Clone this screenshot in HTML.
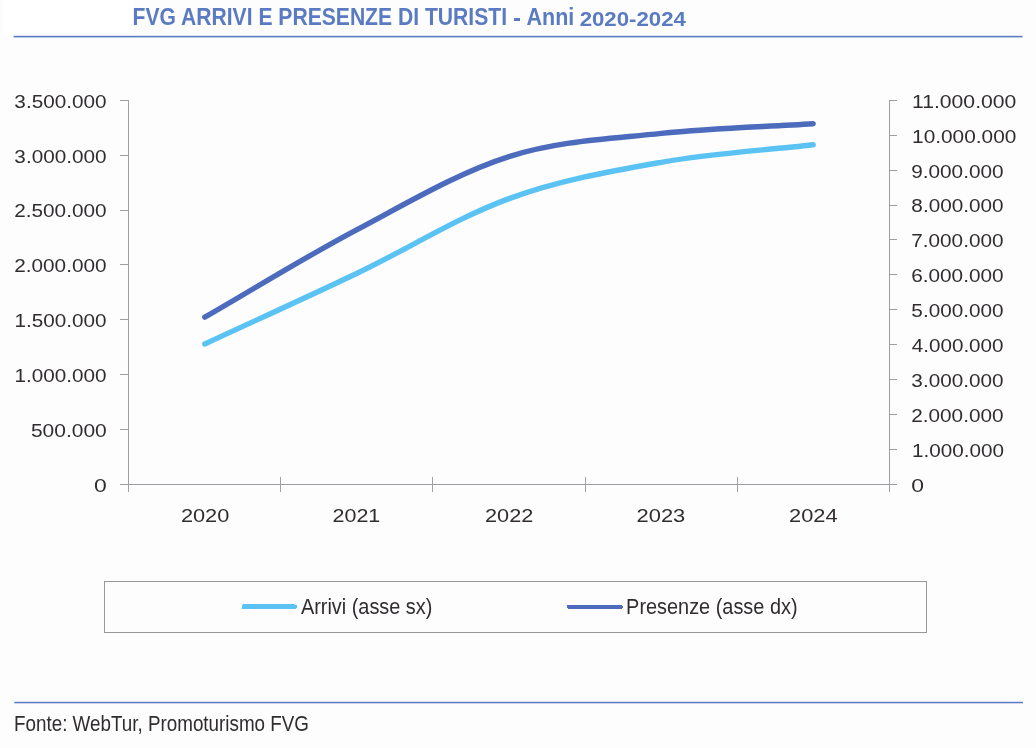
<!DOCTYPE html>
<html><head><meta charset="utf-8">
<style>
html,body{margin:0;padding:0;background:#fdfdfd;}
body{width:1036px;height:748px;overflow:hidden;position:relative;}
svg{position:absolute;left:0;top:0;will-change:transform;}
line,rect{shape-rendering:crispEdges;}
text{font-family:"Liberation Sans",sans-serif;}
.ax,.lg,.ft{fill:#302c30;}
.ti{font-weight:bold;fill:#5a7bc2;}
</style></head>
<body>
<svg width="1036" height="748" viewBox="0 0 1036 748">
<rect x="3" y="0" width="131" height="33.5" fill="#ffffff"/>
<line x1="128.5" y1="100.0" x2="128.5" y2="492" stroke="#a09da4" stroke-width="1"/>
<line x1="889.5" y1="100.0" x2="889.5" y2="492" stroke="#a09da4" stroke-width="1"/>
<line x1="120" y1="484.5" x2="897" y2="484.5" stroke="#a09da4" stroke-width="1"/>
<line x1="120" y1="484.5" x2="128.5" y2="484.5" stroke="#a09da4" stroke-width="1"/>
<line x1="120" y1="429.5" x2="128.5" y2="429.5" stroke="#a09da4" stroke-width="1"/>
<line x1="120" y1="374.5" x2="128.5" y2="374.5" stroke="#a09da4" stroke-width="1"/>
<line x1="120" y1="319.5" x2="128.5" y2="319.5" stroke="#a09da4" stroke-width="1"/>
<line x1="120" y1="264.5" x2="128.5" y2="264.5" stroke="#a09da4" stroke-width="1"/>
<line x1="120" y1="210.5" x2="128.5" y2="210.5" stroke="#a09da4" stroke-width="1"/>
<line x1="120" y1="155.5" x2="128.5" y2="155.5" stroke="#a09da4" stroke-width="1"/>
<line x1="120" y1="100.5" x2="128.5" y2="100.5" stroke="#a09da4" stroke-width="1"/>
<line x1="889.5" y1="484.5" x2="897" y2="484.5" stroke="#a09da4" stroke-width="1"/>
<line x1="889.5" y1="449.5" x2="897" y2="449.5" stroke="#a09da4" stroke-width="1"/>
<line x1="889.5" y1="414.5" x2="897" y2="414.5" stroke="#a09da4" stroke-width="1"/>
<line x1="889.5" y1="379.5" x2="897" y2="379.5" stroke="#a09da4" stroke-width="1"/>
<line x1="889.5" y1="344.5" x2="897" y2="344.5" stroke="#a09da4" stroke-width="1"/>
<line x1="889.5" y1="309.5" x2="897" y2="309.5" stroke="#a09da4" stroke-width="1"/>
<line x1="889.5" y1="274.5" x2="897" y2="274.5" stroke="#a09da4" stroke-width="1"/>
<line x1="889.5" y1="239.5" x2="897" y2="239.5" stroke="#a09da4" stroke-width="1"/>
<line x1="889.5" y1="205.5" x2="897" y2="205.5" stroke="#a09da4" stroke-width="1"/>
<line x1="889.5" y1="170.5" x2="897" y2="170.5" stroke="#a09da4" stroke-width="1"/>
<line x1="889.5" y1="135.5" x2="897" y2="135.5" stroke="#a09da4" stroke-width="1"/>
<line x1="889.5" y1="100.5" x2="897" y2="100.5" stroke="#a09da4" stroke-width="1"/>
<line x1="280.5" y1="477" x2="280.5" y2="492" stroke="#a09da4" stroke-width="1"/>
<line x1="432.5" y1="477" x2="432.5" y2="492" stroke="#a09da4" stroke-width="1"/>
<line x1="585.5" y1="477" x2="585.5" y2="492" stroke="#a09da4" stroke-width="1"/>
<line x1="737.5" y1="477" x2="737.5" y2="492" stroke="#a09da4" stroke-width="1"/>
<path d="M204.80,344.00 C255.40,320.50 305.90,297.73 356.60,273.50 C407.30,249.27 458.23,217.13 509.00,198.60 C559.77,180.07 610.50,171.27 661.20,162.30 C711.90,153.33 762.53,150.63 813.20,144.80" fill="none" stroke="#5bc3f4" stroke-width="5.4" stroke-linecap="round"/>
<path d="M204.80,317.20 C255.40,288.07 305.90,256.57 356.60,229.80 C407.30,203.03 458.23,172.67 509.00,156.60 C559.77,140.53 610.50,138.88 661.20,133.40 C711.90,127.92 762.53,126.93 813.20,123.70" fill="none" stroke="#4c6bbd" stroke-width="5.4" stroke-linecap="round"/>
<text transform="translate(93.88,491.51) scale(1.2326,1)" font-size="18.59" class="ax">0</text>
<text transform="translate(30.96,436.70) scale(1.1276,1)" font-size="18.59" class="ax">500.000</text>
<text transform="translate(14.54,381.89) scale(1.1130,1)" font-size="18.59" class="ax">1.000.000</text>
<text transform="translate(14.54,327.07) scale(1.1130,1)" font-size="18.59" class="ax">1.500.000</text>
<text transform="translate(14.16,272.26) scale(1.1177,1)" font-size="18.59" class="ax">2.000.000</text>
<text transform="translate(14.16,217.44) scale(1.1177,1)" font-size="18.59" class="ax">2.500.000</text>
<text transform="translate(14.37,162.63) scale(1.1151,1)" font-size="18.59" class="ax">3.000.000</text>
<text transform="translate(14.37,107.81) scale(1.1151,1)" font-size="18.59" class="ax">3.500.000</text>
<text transform="translate(911.28,491.51) scale(1.2326,1)" font-size="18.59" class="ax">0</text>
<text transform="translate(912.04,456.63) scale(1.1130,1)" font-size="18.59" class="ax">1.000.000</text>
<text transform="translate(911.16,421.75) scale(1.1177,1)" font-size="18.59" class="ax">2.000.000</text>
<text transform="translate(911.37,386.87) scale(1.1151,1)" font-size="18.59" class="ax">3.000.000</text>
<text transform="translate(911.79,351.99) scale(1.1101,1)" font-size="18.59" class="ax">4.000.000</text>
<text transform="translate(911.37,317.10) scale(1.1151,1)" font-size="18.59" class="ax">5.000.000</text>
<text transform="translate(911.16,282.22) scale(1.1177,1)" font-size="18.59" class="ax">6.000.000</text>
<text transform="translate(911.16,247.34) scale(1.1177,1)" font-size="18.59" class="ax">7.000.000</text>
<text transform="translate(911.37,212.46) scale(1.1151,1)" font-size="18.59" class="ax">8.000.000</text>
<text transform="translate(911.16,177.58) scale(1.1177,1)" font-size="18.59" class="ax">9.000.000</text>
<text transform="translate(912.03,142.70) scale(1.1221,1)" font-size="18.59" class="ax">10.000.000</text>
<text transform="translate(912.01,107.81) scale(1.1384,1)" font-size="18.59" class="ax">11.000.000</text>
<text transform="translate(180.91,522.02) scale(1.1897,1)" font-size="18.31" class="ax">2020</text>
<text transform="translate(332.53,522.02) scale(1.1722,1)" font-size="18.31" class="ax">2021</text>
<text transform="translate(485.02,522.02) scale(1.1851,1)" font-size="18.31" class="ax">2022</text>
<text transform="translate(636.61,522.02) scale(1.1949,1)" font-size="18.31" class="ax">2023</text>
<text transform="translate(789.01,522.02) scale(1.1918,1)" font-size="18.31" class="ax">2024</text>
<rect x="104.5" y="581.5" width="822" height="51" fill="none" stroke="#99979b" stroke-width="1"/>
<line x1="243.8" y1="606.7" x2="294.9" y2="606.7" stroke="#5bc3f4" stroke-width="4.6" stroke-linecap="round"/>
<text transform="translate(300.90,613.60) scale(0.8799,1)" font-size="22.61" class="lg">Arrivi (asse sx)</text>
<line x1="569.3" y1="606.8" x2="620.5" y2="606.8" stroke="#4c6bbd" stroke-width="4.6" stroke-linecap="round"/>
<text transform="translate(626.11,613.60) scale(0.8804,1)" font-size="22.61" class="lg">Presenze (asse dx)</text>
<text transform="translate(132.52,25.06) scale(0.8930,1)" font-size="23.66" class="ti">FVG ARRIVI E PRESENZE DI TURISTI</text>
<text transform="translate(526.55,25.06) scale(0.9090,1)" font-size="23.66" class="ti">Anni</text>
<text transform="translate(579.63,25.50) scale(1.1356,1)" font-size="19.58" class="ti">2020-2024</text>
<rect x="513.9" y="18.3" width="6.4" height="2.6" fill="#5a7bc2"/>
<rect x="13.6" y="35.8" width="1008.9" height="1.6" fill="#5a7bc2" style="shape-rendering:auto"/>
<rect x="14.3" y="701.8" width="1008.7" height="1.5" fill="#5a7bc2" style="shape-rendering:auto"/>
<text transform="translate(13.99,731.10) scale(0.8843,1)" font-size="21.30" class="ft">Fonte: WebTur, Promoturismo FVG</text>
</svg>
</body></html>
